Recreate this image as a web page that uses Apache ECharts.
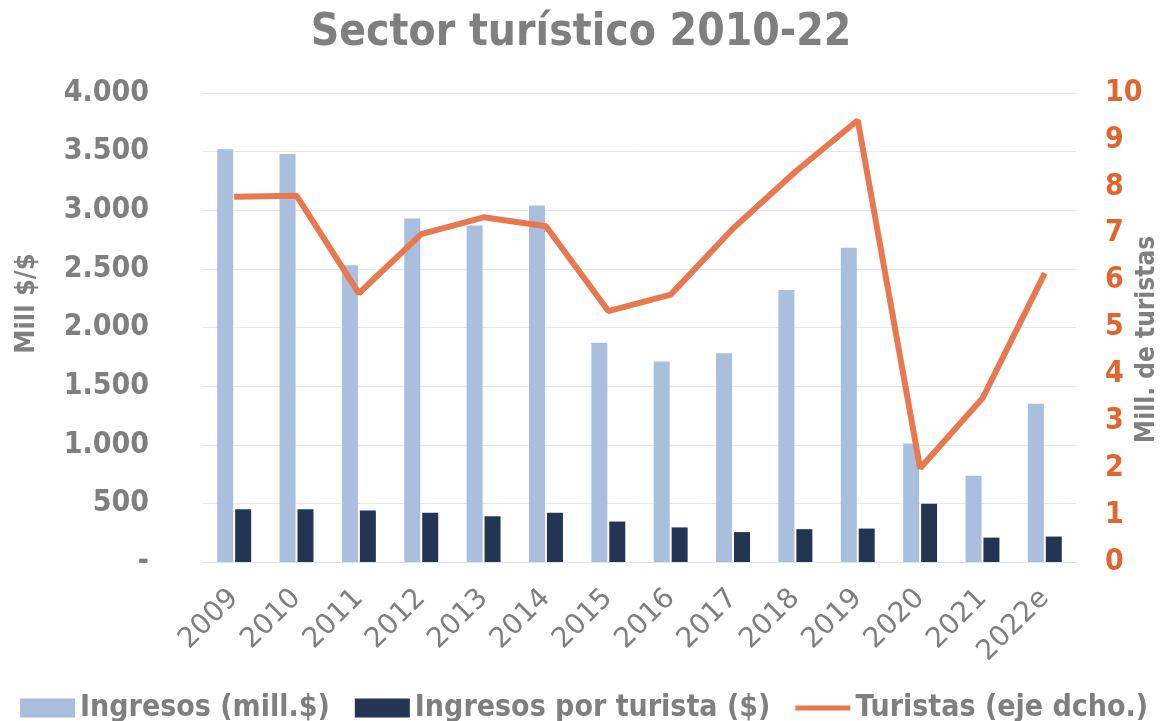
<!DOCTYPE html>
<html>
<head>
<meta charset="utf-8">
<script src="https://cdn.jsdelivr.net/npm/echarts@6/dist/echarts.min.js"></script>
<style>
  html, body { margin: 0; padding: 0; background: #fff; }
  #chart { width: 1162px; height: 721px; }
</style>
</head>
<body>
<div id="chart"></div>
<script>
  // datos
  const years = ['2009', '2010', '2011', '2012', '2013', '2014', '2015', '2016', '2017', '2018', '2019', '2020', '2021', '2022e'];
  const ingresos = [3520, 3480, 2530, 2930, 2870, 3040, 1870, 1710, 1780, 2320, 2680, 1010, 735, 1350];
  const ingresosPorTurista = [450, 450, 440, 420, 390, 420, 345, 295, 255, 280, 285, 497, 208, 217];
  const turistas = [7.79, 7.81, 5.73, 6.99, 7.35, 7.16, 5.35, 5.70, 7.11, 8.32, 9.42, 2.0, 3.49, 6.16];

  const FONT = "'DejaVu Sans Condensed', 'Liberation Sans Narrow', 'DejaVu Sans', sans-serif";
  const GREY = '#7f7f7f';
  const ORANGE = '#e0652f';

  const chart = echarts.init(document.getElementById('chart'));

  const option = {
    backgroundColor: '#fff',
    animation: false,
    textStyle: { fontFamily: FONT },
    title: {
      text: 'Sector turístico 2010-22',
      left: 'center',
      top: 7,
      textStyle: { fontFamily: FONT, fontSize: 44, fontWeight: 'bold', color: GREY },
    },
    grid: {
      left: 203,
      right: 86,
      top: 93,
      bottom: 159,
      containLabel: false,
      outerBoundsMode: 'none',
    },
    legend: {
      left: 15,
      top: 688,
      itemWidth: 55,
      itemHeight: 19,
      itemGap: 25,
      textStyle: { fontFamily: FONT, fontSize: 30, fontWeight: 'bold', color: GREY },
      data: [
        { name: 'Ingresos (mill.$)', icon: 'rect' },
        { name: 'Ingresos por turista ($)', icon: 'rect' },
        { name: 'Turistas (eje dcho.)', icon: 'path://M0,0H55V5H0Z' },
      ],
    },
    xAxis: {
      type: 'category',
      data: years,
      axisLine: { show: true, lineStyle: { color: '#e3e3e3', width: 1 } },
      axisTick: { show: false },
      axisLabel: {
        rotate: 45,
        margin: 32,
        interval: 0,
        fontFamily: "'DejaVu Sans', sans-serif",
        fontSize: 28,
        color: GREY,
      },
    },
    yAxis: [
      {
        type: 'value',
        min: 0,
        max: 4000,
        interval: 500,
        name: 'Mill $/$',
        nameLocation: 'middle',
        nameRotate: 90,
        nameGap: 163,
        nameMoveOverlap: false,
        nameTextStyle: { fontFamily: FONT, fontSize: 27, fontWeight: 'bold', color: GREY, padding: [0, 0, 0, 48] },
        axisLine: { show: false },
        axisTick: { show: false },
        splitLine: { lineStyle: { color: '#e8e8e8', width: 1 } },
        axisLabel: {
          margin: 54,
          fontFamily: FONT,
          fontSize: 30,
          fontWeight: 'bold',
          color: GREY,
          formatter: function (v) {
            if (v === 0) return '-';
            return v >= 1000 ? Math.floor(v / 1000) + '.' + String(v % 1000).padStart(3, '0') : String(v);
          },
        },
      },
      {
        type: 'value',
        min: 0,
        max: 10,
        interval: 1,
        position: 'right',
        name: 'Mill. de turistas',
        nameLocation: 'middle',
        nameRotate: 90,
        nameGap: 58,
        nameMoveOverlap: false,
        nameTextStyle: { fontFamily: FONT, fontSize: 26, fontWeight: 'bold', color: GREY, padding: [0, 24, 0, 0] },
        axisLine: { show: false },
        axisTick: { show: false },
        splitLine: { show: false },
        axisLabel: {
          margin: 29,
          fontFamily: FONT,
          fontSize: 30,
          fontWeight: 'bold',
          color: ORANGE,
        },
      },
    ],
    series: [
      {
        name: 'Ingresos (mill.$)',
        type: 'bar',
        data: ingresos,
        barWidth: 16,
        barGap: '12%',
        itemStyle: { color: '#aabedd' },
      },
      {
        name: 'Ingresos por turista ($)',
        type: 'bar',
        data: ingresosPorTurista,
        barWidth: 16,
        barGap: '12%',
        itemStyle: { color: '#243553' },
      },
      {
        name: 'Turistas (eje dcho.)',
        type: 'line',
        yAxisIndex: 1,
        data: turistas,
        symbol: 'none',
        lineStyle: { color: '#e8784f', width: 6 },
        itemStyle: { color: '#e8784f' },
        z: 5,
      },
    ],
  };

  chart.setOption(option);
</script>
</body>
</html>
